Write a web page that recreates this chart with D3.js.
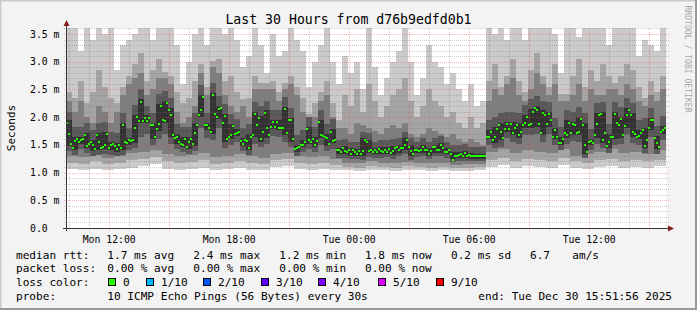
<!DOCTYPE html>
<html>
<head>
<meta charset="utf-8">
<script src="https://cdn.jsdelivr.net/npm/d3@7"></script>
<style>
  body { margin: 0; background: #f3f3f3; }
  svg text { font-family: "DejaVu Sans Mono", monospace; fill: #000; }
</style>
</head>
<body>
<div id="chart"></div>
<script>
// Smokeping graph, last 30 hours
//= ================================
var svgWidth = 697;
var svgHeight = 310;

var plot = { left: 66, right: 666, top: 28, bottom: 228 };

var endTime = new Date(Date.UTC(2025, 11, 30, 15, 51, 56));
var startTime = new Date(endTime.getTime() - 30 * 3600 * 1000);

// median rtt in ms, one value every 6 minutes
var median = [
  1.9,1.7,1.52,1.45,1.57,1.6,1.55,1.58,1.6,1.67,1.48,1.52,1.55,1.5,1.43,1.68,1.55,1.44,1.46,1.5,
  1.7,1.45,1.5,1.52,1.48,1.42,1.5,1.44,1.86,1.55,1.53,1.58,1.57,1.58,1.8,2.0,1.93,2.28,1.93,1.98,
  1.93,1.99,1.85,1.85,1.65,1.79,1.87,2.2,1.95,1.93,2.25,2.12,2.03,1.68,1.63,1.65,1.55,1.52,1.5,1.6,
  1.46,1.55,1.6,1.52,1.71,1.86,2.04,2.12,2.36,1.85,1.85,1.8,1.74,2.4,2.05,
  2.0,2.15,2.16,1.9,2.02,1.6,1.65,1.67,1.84,1.7,1.72,1.74,1.57,1.52,1.58,1.57,1.45,1.65,1.68,2.05,
  1.86,1.98,1.6,1.73,2.08,1.8,1.67,1.83,1.91,1.83,1.91,1.8,1.8,1.8,2.14,1.72,1.94,1.94,1.6,1.42,
  1.44,1.46,1.5,1.5,1.55,1.79,1.58,1.55,1.6,1.5,1.57,1.91,1.67,1.66,1.65,1.62,1.52,1.74,1.57,1.58,
  1.4,1.4,1.38,1.44,1.39,1.37,1.4,1.34,1.4,1.37,1.34,1.39,1.33,1.39,1.58,
  1.55,1.39,1.4,1.37,1.4,1.37,1.42,1.39,1.37,1.4,1.38,1.42,1.35,1.39,1.44,1.46,1.4,1.44,1.45,1.49,
  1.58,1.46,1.39,1.33,1.4,1.4,1.39,1.4,1.46,1.4,1.4,1.34,1.39,1.46,1.46,1.4,1.4,1.5,1.44,1.38,
  1.37,1.4,1.33,1.22,1.29,1.3,1.31,1.34,1.3,1.35,1.3,1.31,1.3,1.29,1.29,1.3,1.29,1.29,1.3,1.3,
  1.65,1.65,1.73,1.58,1.65,1.78,1.85,1.74,1.62,1.79,1.87,1.78,1.87,1.71,1.8,
  1.85,1.67,1.74,1.85,1.9,2.0,1.85,1.88,2.1,2.16,2.12,1.87,1.71,2.08,2.03,1.87,2.06,1.95,1.65,1.76,
  1.65,1.53,1.53,1.6,1.71,1.67,1.9,1.72,1.87,1.85,1.71,1.74,1.97,1.85,1.5,1.37,1.55,1.57,1.53,1.67,
  1.88,2.03,2.06,1.58,1.72,1.48,1.55,1.65,1.65,2.06,1.9,1.85,1.97,1.67,1.84,2.03,2.12,2.03,1.74,1.69,
  1.65,1.66,1.72,1.76,1.48,1.58,1.8,1.95,1.95,1.62,1.53,1.46,1.74,1.77,1.8
];

// smoke bands (ms), tops one value every 18 minutes
var smoke1Top = [
  3.6,3.7,3.2,3.6,3.4,3.7,3.5,3.7,2.85,3.3, 3.4,3.5,3.7,3.7,3.4,3.7,3.7,3.6,3.3,2.6,
  3.0,3.5,3.6,3.3,3.6,3.7,3.5,3.7,3.4,2.9, 3.1,3.6,3.3,2.8,3.5,3.1,3.2,3.6,3.4,3.2,
  2.55,3.0,3.3,3.6,3.0,2.6,3.1,2.8,3.0,2.5, 3.6,2.9,2.4,2.7,3.0,3.2,3.6,3.0,2.4,2.7,
  3.3,3.0,2.9,2.6,2.8,2.5,2.3,2.6,2.2,2.3, 3.7,3.5,3.7,3.4,3.7,3.6,3.4,3.7,3.7,3.7,
  3.6,3.5,2.8,3.6,3.7,3.45,3.7,3.7,3.6,3.7, 3.3,3.6,3.7,3.7,3.6,3.1,3.4,3.3,3.2,3.6
];
var smoke2Top = [
  2.45,2.35,2.65,2.25,2.45,2.85,2.55,2.35,2.25,2.55, 2.75,2.95,3.15,2.65,2.85,3.05,2.82,2.75,2.45,2.25,
  2.35,2.65,2.95,2.55,3.02,3.05,2.65,2.75,2.45,2.32, 2.35,2.75,2.62,2.62,2.65,2.45,2.62,2.75,2.55,2.35,
  2.05,2.25,2.45,2.65,2.25,1.95,2.4,2.2,2.5,2.1, 2.6,2.3,2.0,2.2,2.4,2.5,2.7,2.3,2.0,2.2,
  2.5,2.3,2.2,2.0,2.1,1.9,1.8,2.0,1.8,1.9, 2.65,2.95,2.55,2.75,3.05,2.65,2.45,2.85,3.15,2.75,
  2.55,2.95,2.42,2.42,2.75,3.05,2.55,2.85,2.65,2.95, 2.75,2.62,2.75,2.95,2.85,2.55,2.35,2.65,2.45,2.75
];
var smoke3Top = [
  2.3,2.1,2.3,2.0,1.9,2.2,2.1,1.9,2.1,2.4, 2.6,2.7,2.8,2.4,2.5,2.7,2.7,2.6,2.1,1.9,
  2.0,2.2,2.8,2.4,2.9,2.8,2.4,2.2,2.1,2.2, 2.0,2.5,2.5,2.5,2.5,2.3,2.5,2.6,2.4,2.1,
  1.9,2.0,2.3,2.4,2.0,1.8,1.8,1.7,1.9,1.85, 1.8,1.75,1.7,1.8,1.85,1.8,1.9,1.7,1.65,1.7,
  1.8,1.75,1.7,1.65,1.7,1.6,1.55,1.6,1.55,1.5, 2.3,2.5,2.4,2.6,2.7,2.4,2.3,2.5,2.8,2.6,
  2.4,2.6,2.3,2.3,2.4,2.6,2.3,2.5,2.4,2.4, 2.5,2.5,2.4,2.6,2.5,2.3,2.2,2.4,2.3,2.5
];
var smoke4Top = [
  2.1,1.82,1.82,1.89,1.77,1.9,1.92,1.74,1.72,2.08, 1.8,2.22,2.5,2.2,2.07,2.42,2.47,2.34,1.87,1.82,
  1.82,2.08,2.58,2.07,2.62,2.38,2.24,2.06,1.96,1.8, 1.87,2.27,2.2,2.3,2.13,2.13,2.36,2.16,1.68,1.77,
  2.01,1.82,2.13,1.87,1.96,1.58,1.6,1.56,1.55,1.74, 1.71,1.56,1.58,1.58,1.6,1.62,1.74,1.62,1.56,1.62,
  1.56,1.62,1.66,1.56,1.49,1.5,1.51,1.47,1.46,1.46, 1.95,2.0,2.07,2.09,2.09,2.07,2.22,2.32,2.38,2.3,
  2.28,1.98,1.82,2.12,2.09,2.19,2.07,1.79,2.25,2.28, 1.87,2.28,2.19,2.34,2.25,1.94,1.98,2.17,1.84,2.02
];
var smoke4Bottom = [
  1.39,1.32,1.42,1.35,1.3,1.31,1.33,1.32,1.29,1.31, 1.4,1.45,1.65,1.7,1.5,1.6,1.7,1.52,1.42,1.37,
  1.33,1.39,1.8,1.62,1.58,1.8,1.45,1.5,1.55,1.39, 1.32,1.52,1.46,1.52,1.66,1.64,1.56,1.46,1.3,1.37,
  1.42,1.37,1.5,1.39,1.43,1.27,1.26,1.24,1.24,1.23, 1.28,1.27,1.27,1.28,1.25,1.29,1.33,1.23,1.28,1.29,
  1.24,1.29,1.29,1.27,1.19,1.2,1.2,1.2,1.2,1.2, 1.5,1.44,1.47,1.62,1.56,1.52,1.68,1.68,1.7,1.56,
  1.7,1.5,1.4,1.52,1.57,1.56,1.26,1.4,1.52,1.44, 1.36,1.5,1.52,1.67,1.54,1.5,1.36,1.64,1.34,1.58
];
var smoke5Top = [
  1.94,1.64,1.64,1.71,1.59,1.72,1.74,1.56,1.54,1.9, 1.62,2.04,2.32,2.03,1.89,2.24,2.29,2.16,1.69,1.64,
  1.64,1.9,2.4,1.89,2.44,2.2,2.06,1.88,1.78,1.62, 1.69,2.09,2.02,2.12,1.95,1.95,2.18,1.98,1.5,1.59,
  1.83,1.64,1.95,1.69,1.78,1.44,1.48,1.44,1.43,1.62, 1.59,1.44,1.46,1.46,1.48,1.5,1.62,1.5,1.44,1.5,
  1.44,1.5,1.54,1.44,1.37,1.38,1.39,1.35,1.34,1.34, 1.77,1.82,1.89,1.91,1.91,1.89,2.04,2.14,2.2,2.12,
  2.1,1.8,1.64,1.94,1.91,2.01,1.89,1.61,2.07,2.1, 1.69,2.1,2.01,2.16,2.07,1.76,1.8,1.99,1.66,1.84
];
var smoke5Bottom = [
  1.48,1.41,1.51,1.44,1.39,1.4,1.42,1.41,1.38,1.4, 1.49,1.54,1.89,1.89,1.61,1.75,1.89,1.64,1.51,1.46,
  1.42,1.48,2.0,1.76,1.7,1.96,1.56,1.61,1.66,1.48, 1.41,1.64,1.56,1.63,1.79,1.76,1.68,1.56,1.38,1.46,
  1.51,1.46,1.62,1.48,1.53,1.34,1.33,1.3,1.3,1.29, 1.35,1.33,1.33,1.34,1.31,1.36,1.41,1.29,1.35,1.36,
  1.3,1.36,1.36,1.33,1.24,1.26,1.26,1.25,1.25,1.25, 1.61,1.54,1.58,1.74,1.67,1.63,1.81,1.81,1.83,1.67,
  1.83,1.61,1.49,1.63,1.68,1.67,1.33,1.49,1.63,1.54, 1.44,1.61,1.63,1.8,1.65,1.61,1.44,1.76,1.42,1.7
];

// lower edges of the outer bands, one value every 36 minutes
var smoke1Bottom = [
  1.06,1.05,1.07,1.04,1.06,1.08,1.12,1.16,1.07,1.05,1.06,1.09,1.05,1.06,1.08,1.05,1.04,1.1,1.12,1.06,
  1.05,1.07,1.05,1.04,1.03,1.05,1.04,1.03,1.05,1.04,1.03,1.04,1.02,1.03,1.04,
  1.1,1.14,1.08,1.12,1.1,1.09,1.13,1.08,1.06,1.1,1.12,1.08,1.1,1.09,1.11
];
var smoke2Bottom = [
  1.18,1.16,1.2,1.15,1.18,1.22,1.25,1.28,1.2,1.17,1.19,1.22,1.16,1.18,1.2,1.17,1.15,1.22,1.24,1.17,
  1.16,1.18,1.14,1.1,1.09,1.12,1.1,1.09,1.11,1.1,1.09,1.1,1.08,1.09,1.1,
  1.22,1.26,1.2,1.25,1.22,1.2,1.26,1.2,1.18,1.22,1.25,1.2,1.22,1.2,1.23
];
var smoke3Bottom = [
  1.3,1.28,1.32,1.27,1.3,1.35,1.38,1.4,1.33,1.3,1.32,1.35,1.28,1.3,1.33,1.3,1.27,1.34,1.36,1.3,
  1.28,1.3,1.25,1.18,1.17,1.2,1.18,1.17,1.19,1.18,1.17,1.18,1.14,1.15,1.16,
  1.38,1.42,1.35,1.4,1.38,1.36,1.42,1.3,1.34,1.38,1.42,1.35,1.37,1.33,1.4
];

var smokeColors = ["#cacaca", "#a4a4a4", "#7e7e7e", "#585858", "#323232"];
var yTicks = [0, 0.5, 1.0, 1.5, 2.0, 2.5, 3.0, 3.5];

var titleText = "Last 30 Hours from d76b9edfd0b1";
var rttStats = ["1.7 ms avg", "2.4 ms max", "1.2 ms min", "1.8 ms now", "0.2 ms sd", "6.7", "am/s"];
var lossStats = ["0.00 % avg", "0.00 % max", "0.00 % min", "0.00 % now"];
var lossLabels = ["0", "1/10", "2/10", "3/10", "4/10", "5/10", "9/10"];
var lossColors = ["#26ff00", "#00b8ff", "#0059ff", "#5e00ff", "#7e00ff", "#dd00ff", "#ff0000"];
var probeText = "10 ICMP Echo Pings (56 Bytes) every 30s";
var endText = "end: Tue Dec 30 15:51:56 2025";

// Scales
//= ================================
var svg = d3.select("#chart")
  .append("svg")
  .attr("width", svgWidth)
  .attr("height", svgHeight);

var xScale = d3.scaleUtc()
  .domain([startTime, endTime])
  .range([plot.left, plot.right]);

var yScale = d3.scaleLinear()
  .domain([0, 200 / 55.43])
  .range([plot.bottom, plot.top]);

function stepTime(n, i) {
  return new Date(startTime.getTime() + (endTime - startTime) * i / n);
}

// frame
svg.append("rect").attr("width", svgWidth).attr("height", svgHeight).attr("fill", "#f3f3f3");
svg.append("path").attr("d", `M0.5,${svgHeight} V0.5 H${svgWidth}`).attr("stroke", "#cbcbcb").attr("stroke-width", 2).attr("fill", "none");
svg.append("path").attr("d", `M0,${svgHeight - 1} H${svgWidth - 1} V0`).attr("stroke", "#999").attr("stroke-width", 2).attr("fill", "none");

svg.append("defs").append("clipPath").attr("id", "canvas")
  .append("rect")
  .attr("x", plot.left).attr("y", plot.top)
  .attr("width", plot.right - plot.left).attr("height", plot.bottom - plot.top);

svg.append("rect")
  .attr("x", plot.left).attr("y", plot.top)
  .attr("width", plot.right - plot.left).attr("height", plot.bottom - plot.top)
  .attr("fill", "#fff");

var smokeGroup = svg.append("g").attr("clip-path", "url(#canvas)").attr("shape-rendering", "crispEdges");

function drawBand(top, bottom, color) {
  var n = top.length;
  smokeGroup.append("g").selectAll("rect")
    .data(top)
    .enter()
    .append("rect")
    .attr("x", (d, i) => xScale(stepTime(n, i)))
    .attr("width", (d, i) => xScale(stepTime(n, i + 1)) - xScale(stepTime(n, i)))
    .attr("y", d => yScale(d))
    .attr("height", (d, i) => {
      var lo = bottom[Math.floor(i * bottom.length / n)];
      return Math.max(0, yScale(lo) - yScale(d));
    })
    .attr("fill", color);
}

drawBand(smoke1Top, smoke1Bottom, smokeColors[0]);
drawBand(smoke2Top, smoke2Bottom, smokeColors[1]);
drawBand(smoke3Top, smoke3Bottom, smokeColors[2]);
drawBand(smoke4Top, smoke4Bottom, smokeColors[3]);
drawBand(smoke5Top, smoke5Bottom, smokeColors[4]);

// Grid
//= ================================
var gridGray = "rgba(120,120,120,0.35)";
var gridRed = "rgba(235,70,70,0.38)";
var gridGroup = svg.append("g").attr("shape-rendering", "crispEdges").attr("stroke-dasharray", "1,1");

d3.range(1, 37).forEach(function(k) {
  var v = k / 10;
  var major = k % 5 === 0;
  gridGroup.append("line")
    .attr("x1", plot.left - 2).attr("x2", plot.right + 3)
    .attr("y1", Math.round(yScale(v)) + 0.5).attr("y2", Math.round(yScale(v)) + 0.5)
    .attr("stroke", major ? gridRed : gridGray);
});

xScale.ticks(d3.utcHour.every(1)).forEach(function(t) {
  var major = t.getUTCHours() % 3 === 0;
  var x = Math.round(xScale(t)) + 0.5;
  gridGroup.append("line")
    .attr("x1", x).attr("x2", x)
    .attr("y1", plot.top).attr("y2", plot.bottom + 3)
    .attr("stroke", major ? gridRed : gridGray);
});

// median
svg.append("g").attr("clip-path", "url(#canvas)").attr("shape-rendering", "crispEdges")
  .selectAll("rect")
  .data(median)
  .enter()
  .append("rect")
  .attr("x", (d, i) => xScale(stepTime(median.length, i)))
  .attr("width", (d, i) => xScale(stepTime(median.length, i + 1)) - xScale(stepTime(median.length, i)))
  .attr("y", d => yScale(d) - 1)
  .attr("height", 2)
  .attr("fill", lossColors[0]);

// Axes
//= ================================
var axisColor = "#333";
var arrowColor = "#7f1f1f";
svg.append("line")
  .attr("x1", plot.left - 3).attr("x2", plot.right + 3)
  .attr("y1", plot.bottom + 0.5).attr("y2", plot.bottom + 0.5)
  .attr("stroke", axisColor);
svg.append("line")
  .attr("x1", plot.left + 0.5).attr("x2", plot.left + 0.5)
  .attr("y1", plot.bottom + 3).attr("y2", plot.top - 5)
  .attr("stroke", axisColor);
svg.append("path")
  .attr("d", `M${plot.right + 2},${plot.bottom - 2.5} L${plot.right + 8},${plot.bottom + 0.5} L${plot.right + 2},${plot.bottom + 3.5} Z`)
  .attr("fill", arrowColor);
svg.append("path")
  .attr("d", `M${plot.left - 2.5},${plot.top - 2} L${plot.left + 0.5},${plot.top - 8} L${plot.left + 3.5},${plot.top - 2} Z`)
  .attr("fill", arrowColor);

var bottomAxis = d3.axisBottom(xScale)
  .ticks(d3.utcHour.every(6))
  .tickFormat(d3.utcFormat("%a %H:%M"))
  .tickSize(0)
  .tickPadding(8);

var xAxisGroup = svg.append("g")
  .attr("transform", `translate(0, ${plot.bottom})`)
  .call(bottomAxis);
xAxisGroup.select(".domain").remove();
xAxisGroup.selectAll("text")
  .attr("font-family", "DejaVu Sans Mono, monospace")
  .attr("font-size", "9.8px")
  .attr("fill", "#000");

svg.append("g").selectAll("text")
  .data(yTicks)
  .enter()
  .append("text")
  .attr("x", 30)
  .attr("y", d => yScale(d))
  .attr("dy", "0.36em")
  .attr("font-size", "9.8px")
  .text(d => d === 0 ? "0.0" : d3.format(".1f")(d) + " m");

svg.append("text")
  .attr("transform", `translate(14.5, ${(plot.top + plot.bottom) / 2}) rotate(-90)`)
  .attr("text-anchor", "middle")
  .attr("font-size", "11px")
  .text("Seconds");

svg.append("text")
  .attr("x", 348.5)
  .attr("y", 24)
  .attr("text-anchor", "middle")
  .attr("font-size", "13.2px")
  .text(titleText);

svg.append("text")
  .attr("transform", "translate(685, 59) rotate(90)")
  .attr("text-anchor", "middle")
  .attr("font-size", "8.1px")
  .style("fill", "#a8a8a8")
  .text("RRDTOOL / TOBI OETIKER");

// Legend
//= ================================
var legend = svg.append("g").attr("font-size", "11.1px").style("white-space", "pre");

function legendText(x, y, s) {
  legend.append("text").attr("x", x).attr("y", y).text(s);
}

legendText(16, 258.5, "median rtt:");
[107.3, 193.3, 279.3, 365, 451, 530, 572.3].forEach((x, i) => legendText(x, 258.5, rttStats[i]));

legendText(16, 272.3, "packet loss:");
[107.3, 193.3, 279.3, 365].forEach((x, i) => legendText(x, 272.3, lossStats[i]));

legendText(16, 286.3, "loss color:");
var swatchX = [108.3, 145.7, 203.3, 260.7, 318.3, 377.7, 435.7];
swatchX.forEach(function(x, i) {
  legend.append("rect")
    .attr("x", Math.round(x) + 0.5).attr("y", 278.5)
    .attr("width", 7).attr("height", 7)
    .attr("fill", lossColors[i])
    .attr("stroke", "#000");
  legendText(Math.round(x) + 15, 286.3, lossLabels[i]);
});

legendText(16, 300.2, "probe:");
legendText(107.3, 300.2, probeText);
legendText(478.3, 300.2, endText);
</script>
</body>
</html>
